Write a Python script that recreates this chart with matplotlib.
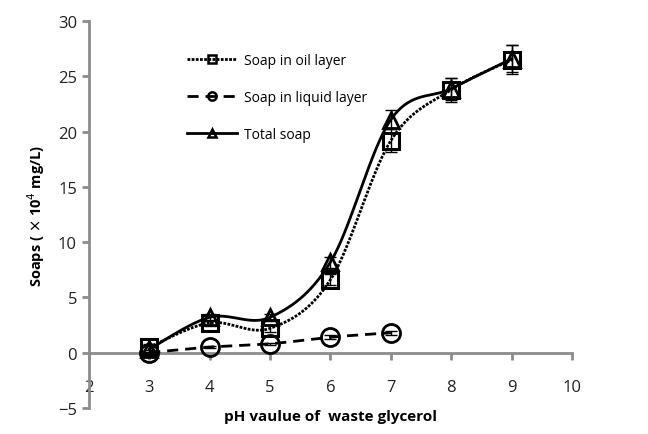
import numpy as np
import matplotlib
matplotlib.use("Agg")
import matplotlib.pyplot as plt
from matplotlib.lines import Line2D

# pH values and measured soap concentrations (x 10^4 mg/L)
ph_oil = [3, 4, 5, 6, 7, 8, 9]
soap_oil = [0.5, 2.7, 2.2, 6.6, 19.2, 23.8, 26.5]
err_oil = [0.3, 0.3, 0.3, 0.5, 1.0, 1.1, 1.3]

ph_liquid = [3, 4, 5, 6, 7]
soap_liquid = [0.0, 0.5, 0.8, 1.4, 1.8]
err_liquid = [0.1, 0.1, 0.1, 0.2, 0.2]

ph_total = [3, 4, 5, 6, 7, 8, 9]
soap_total = [0.3, 3.2, 3.2, 8.2, 21.1, 23.9, 26.6]
err_total = [0.3, 0.3, 0.3, 0.5, 0.9, 1.0, 1.2]

x_ticks = [2, 3, 4, 5, 6, 7, 8, 9, 10]
y_ticks = [-5, 0, 5, 10, 15, 20, 25, 30]

plt.rcParams['font.family'] = ['Open Sans', 'DejaVu Sans']


def smooth(xs, ys, n=40):
    """Cubic Bezier smoothing through every point (spreadsheet-style)."""
    p = np.column_stack([xs, ys]).astype(float)
    ext = np.vstack([p[0], p, p[-1]])
    out = []
    t = np.linspace(0, 1, n)[:, None]
    for i in range(len(p) - 1):
        p0, p3 = ext[i + 1], ext[i + 2]
        c1 = p0 + (ext[i + 2] - ext[i]) / 6.0
        c2 = p3 - (ext[i + 3] - ext[i + 1]) / 6.0
        seg = ((1 - t) ** 3) * p0 + 3 * ((1 - t) ** 2) * t * c1 \
            + 3 * (1 - t) * t ** 2 * c2 + t ** 3 * p3
        out.append(seg if i == 0 else seg[1:])
    s = np.vstack(out)
    return s[:, 0], s[:, 1]


fig = plt.figure(figsize=(6.48, 4.35), dpi=100)
ax = fig.add_axes([0.137, 0.060, 0.746, 0.889])

lw = 2.0
oil_ls = (0, (1.0, 0.5))
liq_ls = (0, (4, 2.5))
# curves
sx, sy = smooth(ph_oil, soap_oil)
ax.plot(sx, sy, color='black', lw=lw, ls=oil_ls, zorder=3)
sx, sy = smooth(ph_liquid, soap_liquid)
ax.plot(sx, sy, color='black', lw=lw, ls=liq_ls, zorder=3)
sx, sy = smooth(ph_total, soap_total)
ax.plot(sx, sy, color='black', lw=lw, ls='-', zorder=3)

# error bars
for xs, ys, es in [(ph_oil, soap_oil, err_oil),
                   (ph_liquid, soap_liquid, err_liquid),
                   (ph_total, soap_total, err_total)]:
    ax.errorbar(xs, ys, yerr=es, fmt='none', ecolor='black',
                elinewidth=1.0, capsize=4, capthick=1.0, zorder=4)

# markers
ax.plot(ph_oil, soap_oil, ls='none', marker='s', ms=12, mfc='none',
        mec='black', mew=2.2, zorder=5)
ax.plot(ph_liquid, soap_liquid, ls='none', marker='o', ms=13, mfc='none',
        mec='black', mew=2.0, zorder=5)
ax.plot(ph_total, soap_total, ls='none', marker='^', ms=11, mfc='none',
        mec='black', mew=2.0, zorder=5)

ax.set_xlim(2, 10)
ax.set_ylim(-5, 30)
ax.set_xticks(x_ticks)
ax.set_yticks(y_ticks)

spine_col = '#8c8c8c'
for s in ['top', 'right']:
    ax.spines[s].set_visible(False)
ax.spines['bottom'].set_position(('data', 0))
ax.spines['bottom'].set_color(spine_col)
ax.spines['left'].set_color(spine_col)
ax.spines['bottom'].set_linewidth(2)
ax.spines['left'].set_linewidth(2)
ax.tick_params(axis='both', colors=spine_col, width=2, length=5,
               labelcolor='#222222', labelsize=12, direction='out')
ax.tick_params(axis='x', pad=14)

fig.text(0.51, 0.025, 'pH vaulue of  waste glycerol', fontsize=11,
         fontweight='bold', ha='center', va='bottom')
ax.set_ylabel('Soaps ( $\\times$ 10$^4$ mg/L)', fontsize=10.5,
              fontweight='bold', labelpad=8)

handles = [
    Line2D([], [], color='black', lw=lw, ls=oil_ls, marker='s',
           ms=6, mfc='none', mec='black', mew=1.8),
    Line2D([], [], color='black', lw=lw, ls=liq_ls, marker='o',
           ms=6, mfc='none', mec='black', mew=1.8),
    Line2D([], [], color='black', lw=lw, ls='-', marker='^',
           ms=6, mfc='none', mec='black', mew=1.8),
]
labels = ['Soap in oil layer', 'Soap in liquid layer', 'Total soap']
fig.legend(handles, labels, loc='upper left',
           bbox_to_anchor=(0.27, 0.905), frameon=False, fontsize=10,
           handlelength=3.6, labelspacing=1.6, handletextpad=0.5)

fig.savefig('out.png', dpi=100)
